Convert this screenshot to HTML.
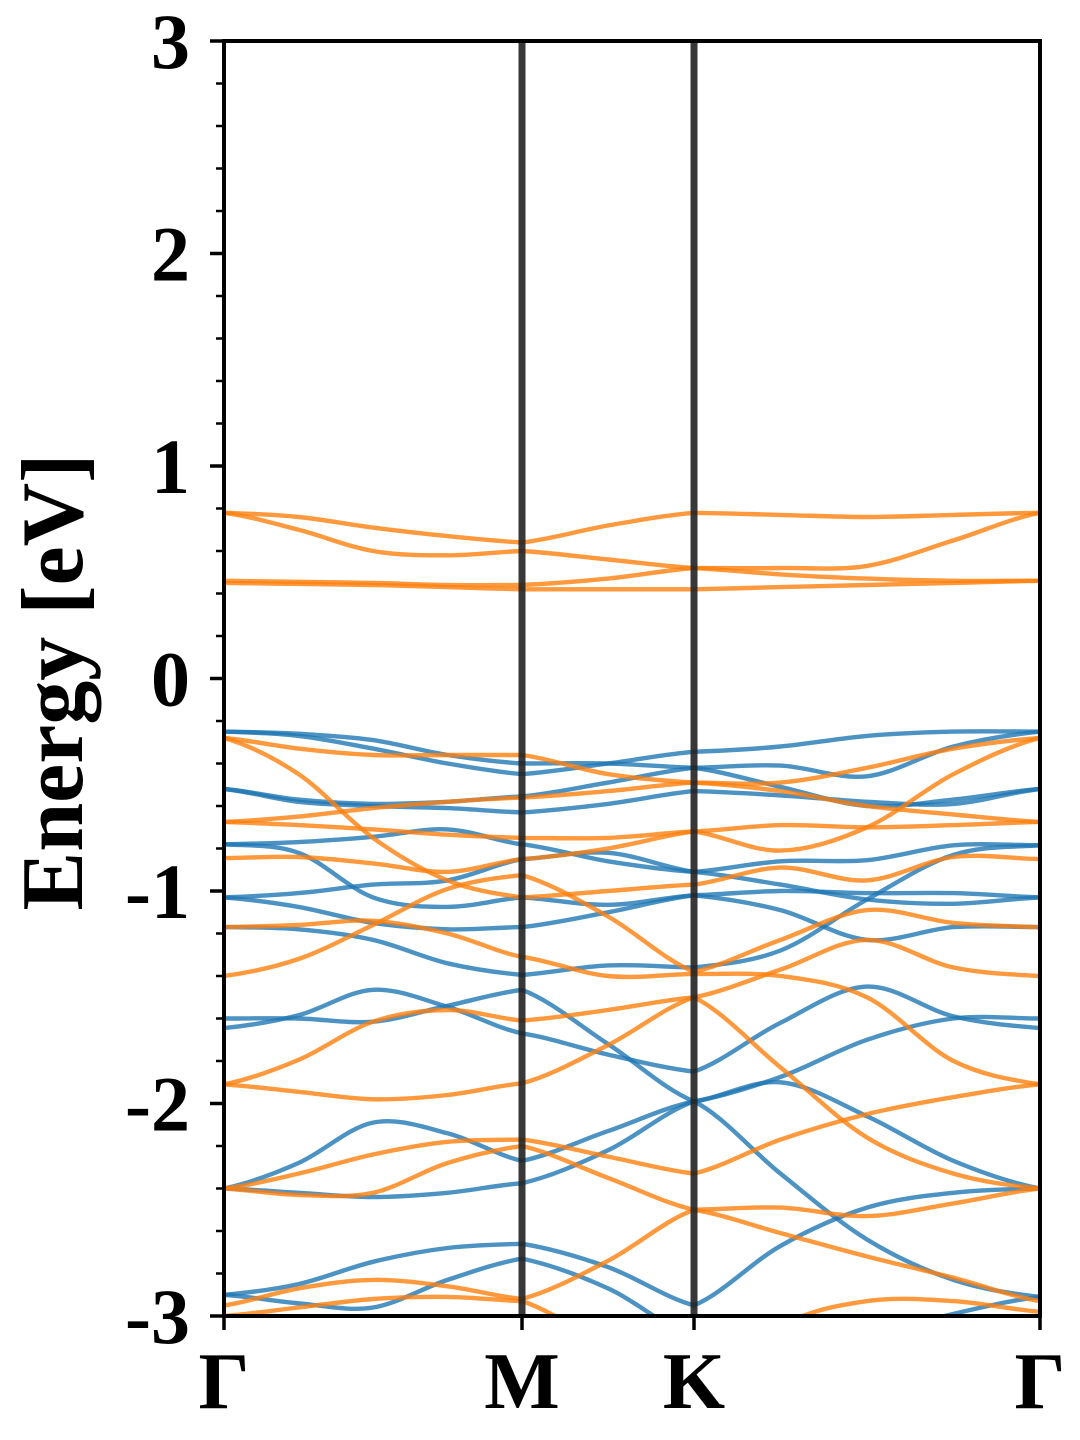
<!DOCTYPE html>
<html><head><meta charset="utf-8"><style>
html,body{margin:0;padding:0;background:#fff;}
svg{display:block;}
text{font-family:"Liberation Serif",serif;font-weight:bold;fill:#000;}
</style></head><body>
<svg id="chart" width="1080" height="1440" viewBox="0 0 1080 1440" xmlns="http://www.w3.org/2000/svg">
<defs><clipPath id="plotclip"><rect x="224" y="41" width="816" height="1275"/></clipPath></defs>
<g id="bands" clip-path="url(#plotclip)"></g>
<g id="vlines"></g>
<rect x="224" y="41" width="816" height="1275" fill="none" stroke="#000" stroke-width="4"/>
<g id="yaxis"></g>
<g id="xaxis"></g>
<text transform="translate(82,682) rotate(-90)" text-anchor="middle" font-size="88">Energy [eV]</text>
</svg>
<script>
// k-path labels & positions (in path fraction units)
const kLabels = ["Γ","M","K","Γ"];
const kNodes = [0, 0.3652, 0.5760, 1.0];
const yTicks = [-3,-2,-1,0,1,2,3];
const yRange = [-3, 3];

const conductionBands = [
  [0.78,0.76,0.71,0.67,0.64,0.72,0.78,0.77,0.76,0.77,0.78],
  [0.78,0.70,0.60,0.58,0.60,0.56,0.52,0.52,0.53,0.65,0.78],
  [0.46,0.455,0.45,0.44,0.44,0.47,0.52,0.49,0.47,0.46,0.46],
  [0.45,0.445,0.44,0.43,0.42,0.42,0.42,0.43,0.44,0.45,0.46]
];
const orangeBands = [
  [-0.28,-0.33,-0.36,-0.36,-0.36,-0.45,-0.49,-0.49,-0.42,-0.33,-0.28],
  [-0.28,-0.45,-0.75,-0.95,-1.03,-1.00,-0.97,-0.89,-0.95,-0.84,-0.85],
  [-0.675,-0.65,-0.61,-0.58,-0.56,-0.53,-0.49,-0.53,-0.60,-0.64,-0.675],
  [-0.675,-0.69,-0.71,-0.735,-0.75,-0.75,-0.72,-0.69,-0.70,-0.69,-0.675],
  [-0.845,-0.84,-0.87,-0.91,-0.85,-0.80,-0.72,-0.81,-0.70,-0.45,-0.28],
  [-1.17,-1.16,-1.14,-1.20,-1.31,-1.40,-1.39,-1.40,-1.50,-1.80,-1.91],
  [-1.40,-1.32,-1.16,-0.99,-0.925,-1.12,-1.38,-1.23,-1.09,-1.15,-1.17],
  [-1.91,-1.795,-1.615,-1.56,-1.61,-1.56,-1.50,-1.37,-1.23,-1.36,-1.40],
  [-1.91,-1.945,-1.98,-1.96,-1.905,-1.725,-1.50,-1.83,-2.16,-2.33,-2.40],
  [-2.40,-2.43,-2.42,-2.28,-2.20,-2.35,-2.50,-2.61,-2.72,-2.82,-2.93],
  [-2.40,-2.33,-2.24,-2.18,-2.17,-2.25,-2.33,-2.17,-2.05,-1.97,-1.91],
  [-2.95,-2.87,-2.83,-2.86,-2.92,-2.74,-2.50,-2.49,-2.53,-2.47,-2.40],
  [-3.00,-2.96,-2.92,-2.91,-2.93,-3.15,-3.40,-3.05,-2.93,-2.93,-2.98]
];
const blueBands = [
  [-0.25,-0.27,-0.33,-0.40,-0.45,-0.40,-0.345,-0.32,-0.27,-0.25,-0.25],
  [-0.25,-0.26,-0.29,-0.36,-0.40,-0.40,-0.42,-0.41,-0.46,-0.32,-0.25],
  [-0.52,-0.57,-0.59,-0.58,-0.555,-0.49,-0.42,-0.51,-0.60,-0.57,-0.52],
  [-0.52,-0.58,-0.60,-0.61,-0.63,-0.59,-0.53,-0.55,-0.58,-0.59,-0.52],
  [-0.78,-0.77,-0.745,-0.71,-0.78,-0.86,-0.91,-0.86,-0.855,-0.785,-0.785],
  [-0.78,-0.82,-1.03,-1.075,-1.03,-1.065,-1.02,-1.00,-1.01,-1.01,-1.03],
  [-1.03,-1.01,-0.97,-0.95,-0.85,-0.82,-0.91,-0.97,-1.04,-1.06,-1.03],
  [-1.03,-1.075,-1.15,-1.18,-1.17,-1.10,-1.02,-1.09,-1.23,-1.17,-1.17],
  [-1.17,-1.18,-1.23,-1.34,-1.395,-1.35,-1.36,-1.28,-1.04,-0.83,-0.785],
  [-1.60,-1.60,-1.615,-1.54,-1.465,-1.72,-1.99,-2.33,-2.64,-2.83,-2.91],
  [-1.645,-1.585,-1.465,-1.545,-1.67,-1.77,-1.85,-1.62,-1.45,-1.59,-1.645],
  [-2.40,-2.42,-2.44,-2.42,-2.375,-2.22,-1.99,-1.875,-1.70,-1.60,-1.60],
  [-2.40,-2.28,-2.09,-2.14,-2.27,-2.13,-1.99,-1.90,-2.06,-2.27,-2.40],
  [-2.90,-2.94,-2.96,-2.83,-2.73,-2.87,-3.10,-3.25,-3.10,-2.99,-2.91],
  [-2.90,-2.85,-2.745,-2.68,-2.66,-2.77,-2.95,-2.67,-2.49,-2.42,-2.40]
];

const NS='http://www.w3.org/2000/svg';
const PX0=224, PX1=1040, PY0=41, PY1=1316;
function xScale(k){ return PX0 + k*(PX1-PX0); }
function yScale(e){ return PY1 - (e - yRange[0])/(yRange[1]-yRange[0])*(PY1-PY0); }
const segIdx=[[0,1,2,3,4],[4,5,6],[6,7,8,9,10]];
function kOfIndex(i){
  if(i<=4) return kNodes[0]+ (i/4)*(kNodes[1]-kNodes[0]);
  if(i<=6) return kNodes[1]+ ((i-4)/2)*(kNodes[2]-kNodes[1]);
  return kNodes[2]+ ((i-6)/4)*(kNodes[3]-kNodes[2]);
}
function bandPath(vals){
  let d='';
  segIdx.forEach(idx=>{
    const pts=idx.map(i=>[xScale(kOfIndex(i)), yScale(vals[i])]);
    if(d==='') d+='M'+pts[0][0].toFixed(1)+','+pts[0][1].toFixed(1);
    const n=pts.length;
    const tan=pts.map((p,j)=>{
      if(j===0) return [(pts[1][0]-p[0]),(pts[1][1]-p[1])*0.6];
      if(j===n-1) return [(p[0]-pts[j-1][0]),(p[1]-pts[j-1][1])*0.6];
      return [(pts[j+1][0]-pts[j-1][0])/2,(pts[j+1][1]-pts[j-1][1])/2];
    });
    for(let j=0;j<n-1;j++){
      const p=pts[j], q=pts[j+1];
      const c1=[p[0]+tan[j][0]/3, p[1]+tan[j][1]/3];
      const c2=[q[0]-tan[j+1][0]/3, q[1]-tan[j+1][1]/3];
      d+=' C'+c1[0].toFixed(1)+','+c1[1].toFixed(1)+' '+c2[0].toFixed(1)+','+c2[1].toFixed(1)+' '+q[0].toFixed(1)+','+q[1].toFixed(1);
    }
  });
  return d;
}
const gB=document.getElementById('bands');
function drawBands(list,color,prefix){
  list.forEach((vals,i)=>{
    const p=document.createElementNS(NS,'path');
    p.setAttribute('d',bandPath(vals));
    p.setAttribute('fill','none');
    p.setAttribute('stroke',color);
    p.setAttribute('stroke-opacity','0.8');
    p.setAttribute('stroke-width','4.4');
    
    
    gB.appendChild(p);
  });
}
drawBands(blueBands,'#1f77b4','spin-up-band');
drawBands(orangeBands,'#ff7f0e','spin-down-band');
drawBands(conductionBands,'#ff7f0e','conduction-band');

const gV=document.getElementById('vlines');
[1,2].forEach(j=>{
  const l=document.createElementNS(NS,'line');
  const x=xScale(kNodes[j]);
  l.setAttribute('x1',x);l.setAttribute('x2',x);l.setAttribute('y1',PY0);l.setAttribute('y2',PY1);
  l.setAttribute('stroke','#222');l.setAttribute('stroke-opacity','0.9');l.setAttribute('stroke-width','7');
  
  
  gV.appendChild(l);
});

const gY=document.getElementById('yaxis');
for(let e=-3;e<=3.0001;e+=0.2){
  const y=yScale(e);
  const isMajor=Math.abs(e-Math.round(e))<1e-6;
  const t=document.createElementNS(NS,'line');
  t.setAttribute('x1',PX0);t.setAttribute('x2',PX0-(isMajor?14:8));
  t.setAttribute('y1',y);t.setAttribute('y2',y);
  t.setAttribute('stroke','#000');t.setAttribute('stroke-width',isMajor?3.5:2.5);
  
  
  gY.appendChild(t);
}
yTicks.forEach(v=>{
  const tx=document.createElementNS(NS,'text');
  tx.setAttribute('x',190);tx.setAttribute('y',yScale(v)+27);
  tx.setAttribute('text-anchor','end');tx.setAttribute('font-size','78');
  tx.textContent=String(v);
  
  
  gY.appendChild(tx);
});

const gX=document.getElementById('xaxis');
kLabels.forEach((lab,j)=>{
  const x=xScale(kNodes[j]);
  const t=document.createElementNS(NS,'line');
  t.setAttribute('x1',x);t.setAttribute('x2',x);t.setAttribute('y1',PY1);t.setAttribute('y2',PY1+14);
  t.setAttribute('stroke','#000');t.setAttribute('stroke-width','3.5');
  
  
  gX.appendChild(t);
  const tx=document.createElementNS(NS,'text');
  tx.setAttribute('x',x);tx.setAttribute('y',1408);
  tx.setAttribute('text-anchor','middle');tx.setAttribute('font-size','80');
  tx.textContent=lab;
  
  
  gX.appendChild(tx);
});
</script>
</body></html>
